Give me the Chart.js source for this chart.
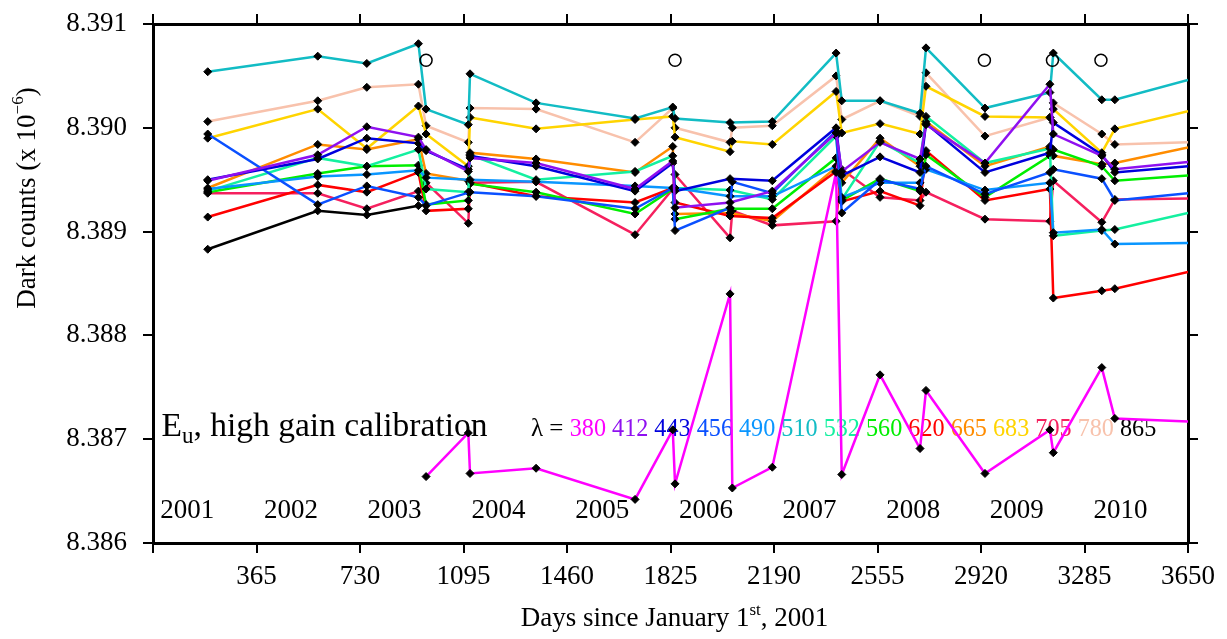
<!DOCTYPE html>
<html>
<head>
<meta charset="utf-8">
<script src="https://cdn.jsdelivr.net/npm/chart.js@4.4.1/dist/chart.umd.min.js"></script>
<style>
html, body { margin: 0; padding: 0; background: #fff; }
#wrap { width: 1227px; height: 639px; }
</style>
</head>
<body>
<div id="wrap"><canvas id="dark-chart"></canvas></div>
<script>
// Calibration days (since Jan 1st 2001) shared by all bands
var days = [193, 581, 754, 936, 963, 1112, 1118, 1351, 1700, 1833, 1841, 2035, 2043,
    2184, 2409, 2429, 2564, 2705, 2726, 2934, 3163, 3175, 3346, 3392, 3650];

// Dark counts (x 10^-6) per band, null where the band has no calibration
var band380 = [null, null, null, null, 8.38664, 8.38706, 8.38667, 8.38672, 8.38642, 8.38709, 8.38657, 8.38840, 8.38653,
    8.38673, 8.38957, 8.38666, 8.38762, 8.38691, 8.38747, 8.38667, 8.38709, 8.38687, 8.38769, 8.38720, 8.38717];
var band412 = [8.38949, 8.38974, 8.39001, 8.38991, 8.38979, 8.38958, 8.38971, 8.38966, 8.38941, 8.38968, 8.38923, 8.38928, null,
    8.38939, 8.38995, 8.38958, 8.38986, 8.38970, 8.39003, 8.38966, 8.39042, 8.38994, 8.38973, 8.38960, 8.38967];
var band443 = [8.38950, 8.38970, 8.38990, 8.38985, 8.38978, 8.38960, 8.38973, 8.38963, 8.38939, 8.38966, 8.38939, 8.38951, null,
    8.38949, 8.39000, 8.38954, 8.38972, 8.38957, 8.39004, 8.38957, 8.38976, 8.39005, 8.38974, 8.38957, 8.38963];
var band456 = [8.38994, 8.38926, 8.38944, 8.38933, 8.38925, null, 8.38938, 8.38934, 8.38922, 8.38942, 8.38901, 8.38923, 8.38948,
    8.38937, 8.38997, 8.38918, 8.38950, 8.38941, 8.38963, 8.38936, 8.38957, 8.38960, 8.38951, 8.38930, 8.38937];
var band490 = [8.38941, 8.38953, 8.38955, 8.38959, 8.38952, null, 8.38950, 8.38948, 8.38944, 8.38942, 8.38942, 8.38934, null,
    8.38934, 8.38963, 8.38933, 8.38947, 8.38947, 8.38960, 8.38940, 8.38947, 8.38899, 8.38902, 8.38888, 8.38889];
var band510 = [8.39054, 8.39069, 8.39062, 8.39081, 8.39018, 8.39003, 8.39052, 8.39024, 8.39009, 8.39020, 8.39009, 8.39005, null,
    8.39006, 8.39072, 8.39026, 8.39026, 8.39014, 8.39077, 8.39019, 8.39034, 8.39072, 8.39027, 8.39027, 8.39046];
var band532 = [8.38939, 8.38971, 8.38963, 8.38979, 8.38941, 8.38938, 8.38974, 8.38950, 8.38958, 8.38973, 8.38942, 8.38940, null,
    8.38931, 8.38992, 8.38931, 8.38987, 8.38966, 8.39011, 8.38966, 8.38980, 8.38896, 8.38901, 8.38902, 8.38918];
var band560 = [8.38938, 8.38956, 8.38963, 8.38964, 8.38926, 8.38930, 8.38946, 8.38938, 8.38917, 8.38941, 8.38912, 8.38922, null,
    8.38922, 8.38971, 8.38930, 8.38951, 8.38939, 8.38974, 8.38933, 8.38973, 8.38979, 8.38963, 8.38949, 8.38954];
var band620 = [8.38914, 8.38945, 8.38938, 8.38957, 8.38920, 8.38922, 8.38947, 8.38934, 8.38928, 8.38942, 8.38928, 8.38915, null,
    8.38913, 8.38958, 8.38929, 8.38939, 8.38925, 8.38978, 8.38930, 8.38941, 8.38836, 8.38843, 8.38845, 8.38861];
var band665 = [8.38942, 8.38984, 8.38979, 8.38989, 8.38956, 8.38949, 8.38976, 8.38970, 8.38957, 8.38982, 8.38917, 8.38918, null,
    8.38910, 8.38962, 8.38947, 8.38990, 8.38963, 8.39006, 8.38963, 8.38982, 8.38973, 8.38965, 8.38966, 8.38981];
var band683 = [8.38990, 8.39018, 8.38980, 8.39021, 8.38994, 8.38963, 8.39010, 8.38999, 8.39008, 8.39011, 8.38991, 8.38977, 8.38987,
    8.38984, 8.39035, 8.38995, 8.39004, 8.38994, 8.39040, 8.39011, 8.39010, 8.39018, 8.38976, 8.38999, 8.39016];
var band705 = [8.38937, 8.38937, 8.38922, 8.38939, 8.38947, 8.38908, 8.38947, 8.38948, 8.38897, 8.38941, 8.38955, 8.38894, 8.38920,
    8.38906, 8.38910, 8.38960, 8.38933, 8.38930, 8.38938, 8.38912, 8.38910, 8.38949, 8.38909, 8.38931, 8.38932];
var band780 = [8.39006, 8.39026, 8.39039, 8.39042, 8.39002, 8.38986, 8.39019, 8.39018, 8.38986, 8.39019, 8.39000, 8.38986, 8.39000,
    8.39002, 8.39050, 8.39008, 8.39026, 8.39011, 8.39053, 8.38992, 8.39010, 8.39024, 8.38994, 8.38984, 8.38986];
var band865 = [8.38883, 8.38920, 8.38916, 8.38925];

var wavelengths = [380, 412, 443, 456, 490, 510, 532, 560, 620, 665, 683, 705, 780, 865];
var bandValues = [band380, band412, band443, band456, band490, band510, band532, band560,
    band620, band665, band683, band705, band780, band865];
var bandColors = ["#ff00ff", "#8f10f0", "#0000dd", "#0a50ff", "#0a96ff", "#12bcc4", "#14f0a0", "#00ee00",
    "#ff0000", "#ff8c00", "#ffd400", "#f5205e", "#f8c2ac", "#000000"];

// open circles marking the instrument events
var eventDays = [963, 1841, 2932, 3172, 3343];
var eventLevel = 8.39065;

// year labels inside the plot
var yearLabels = ["2001", "2002", "2003", "2004", "2005", "2006", "2007", "2008", "2009", "2010"];
var yearDays = [121, 487, 852, 1218, 1584, 1950, 2315, 2681, 3046, 3412];
var yearLevel = 8.38631;

var serif = "'Liberation Serif', 'Times New Roman', serif";

function toPoints(vals) {
    var pts = [];
    days.forEach(function (d, i) {
        if (vals[i] != null) pts.push({ x: d, y: vals[i] });
    });
    return pts;
}

var datasets = wavelengths.map(function (w, i) {
    return {
        label: w + " nm",
        data: toPoints(bandValues[i]),
        borderColor: bandColors[i],
        backgroundColor: "#000",
        borderWidth: 2.5,
        pointStyle: "rectRot",
        pointRadius: function (c) { return c.raw && c.raw.x >= 3650 ? 0 : 4; },
        pointBackgroundColor: "#000",
        pointBorderColor: "#000",
        pointBorderWidth: 1,
        tension: 0,
        order: 1,
    };
});

datasets.push({
    label: "events",
    data: eventDays.map(function (d) { return { x: d, y: eventLevel }; }),
    showLine: false,
    pointStyle: "circle",
    pointRadius: 6,
    pointBorderColor: "#000",
    pointBackgroundColor: "rgba(0,0,0,0)",
    pointBorderWidth: 1.5,
    order: 0,
});

function drawSeq(ctx, parts, x, y) {
    // parts: [text, size, dy, color]
    parts.forEach(function (p) {
        ctx.font = p[1] + "px " + serif;
        ctx.fillStyle = p[3] || "#000";
        ctx.fillText(p[0], x, y + (p[2] || 0));
        x += ctx.measureText(p[0]).width;
    });
    return x;
}

function seqWidth(ctx, parts) {
    var w = 0;
    parts.forEach(function (p) {
        ctx.font = p[1] + "px " + serif;
        w += ctx.measureText(p[0]).width;
    });
    return w;
}

var textPlugin = {
    id: "plotText",
    beforeDatasetsDraw: function (chart) {
        var ctx = chart.ctx, xs = chart.scales.x, ys = chart.scales.y;
        ctx.save();
        ctx.textBaseline = "middle";
        ctx.textAlign = "center";
        ctx.fillStyle = "#000";
        ctx.font = "27px " + serif;
        yearLabels.forEach(function (lab, i) {
            ctx.fillText(lab, xs.getPixelForValue(yearDays[i]), ys.getPixelForValue(yearLevel));
        });

        ctx.textAlign = "left";
        ctx.textBaseline = "alphabetic";
        var baseY = ys.getPixelForValue(8.38703);
        drawSeq(ctx, [["E", 33.5, 0], ["u", 23, 7], [", high gain calibration", 33.5, 0]],
            xs.getPixelForValue(30), baseY);

        var lx = xs.getPixelForValue(1333);
        var parts = [["\u03bb = ", 25, 0, "#000"]];
        wavelengths.forEach(function (w, i) {
            parts.push([String(w), 24.2, 0, bandColors[i]]);
            if (i < wavelengths.length - 1) parts.push([" ", 24.2, 0, "#000"]);
        });
        drawSeq(ctx, parts, lx, baseY);
        ctx.restore();
    },
    afterDraw: function (chart) {
        var ctx = chart.ctx, area = chart.chartArea;
        ctx.save();
        ctx.textBaseline = "middle";
        ctx.textAlign = "left";
        // x axis title
        var xp = [["Days since January 1", 27, 0], ["st", 17, -8], [", 2001", 27, 0]];
        var w = seqWidth(ctx, xp);
        drawSeq(ctx, xp, (area.left + area.right) / 2 + 4 - w / 2, 619);
        // y axis title
        var yp = [["Dark counts (x 10", 27, 0], ["\u22126", 17, -9], [")", 27, 0]];
        var wy = seqWidth(ctx, yp);
        ctx.translate(28, 198);
        ctx.rotate(-Math.PI / 2);
        drawSeq(ctx, yp, -wy / 2, 0);
        ctx.restore();
    },
};

var axisGrid = {
    drawOnChartArea: false,
    color: "#000",
    lineWidth: 2,
    tickLength: 10,
};
var axisBorder = { display: true, color: "#000", width: 3 };

var config = {
    type: "line",
    data: { datasets: datasets },
    options: {
        responsive: true,
        maintainAspectRatio: false,
        devicePixelRatio: 1,
        animation: false,
        layout: { padding: 0 },
        plugins: {
            legend: { display: false },
            tooltip: { enabled: false },
        },
        scales: {
            x: {
                type: "linear",
                position: "bottom",
                min: 0,
                max: 3650,
                grid: axisGrid,
                border: axisBorder,
                ticks: {
                    stepSize: 365,
                    color: "#000",
                    padding: 8,
                    maxRotation: 0,
                    font: { family: serif, size: 27 },
                    callback: function (v) { return v === 0 ? "" : v; },
                },
                afterFit: function (s) { s.height = 96; s.paddingLeft = 0; s.paddingRight = 0; },
            },
            x2: {
                type: "linear",
                axis: "x",
                position: "top",
                min: 0,
                max: 3650,
                grid: axisGrid,
                border: axisBorder,
                ticks: { stepSize: 365, display: false },
                afterFit: function (s) { s.height = 24; },
            },
            y: {
                type: "linear",
                position: "left",
                min: 8.386,
                max: 8.391,
                grid: axisGrid,
                border: axisBorder,
                ticks: {
                    stepSize: 0.001,
                    color: "#000",
                    padding: 16,
                    font: { family: serif, size: 27 },
                    callback: function (v) { return v.toFixed(3); },
                },
                afterFit: function (s) { s.width = 153; s.paddingTop = 0; s.paddingBottom = 0; },
            },
            y2: {
                type: "linear",
                axis: "y",
                position: "right",
                min: 8.386,
                max: 8.391,
                grid: axisGrid,
                border: axisBorder,
                ticks: { stepSize: 0.001, display: false },
                afterFit: function (s) { s.width = 39; },
            },
        },
    },
    plugins: [textPlugin],
};

var darkChart = new Chart(document.getElementById("dark-chart").getContext("2d"), config);
</script>
</body>
</html>
